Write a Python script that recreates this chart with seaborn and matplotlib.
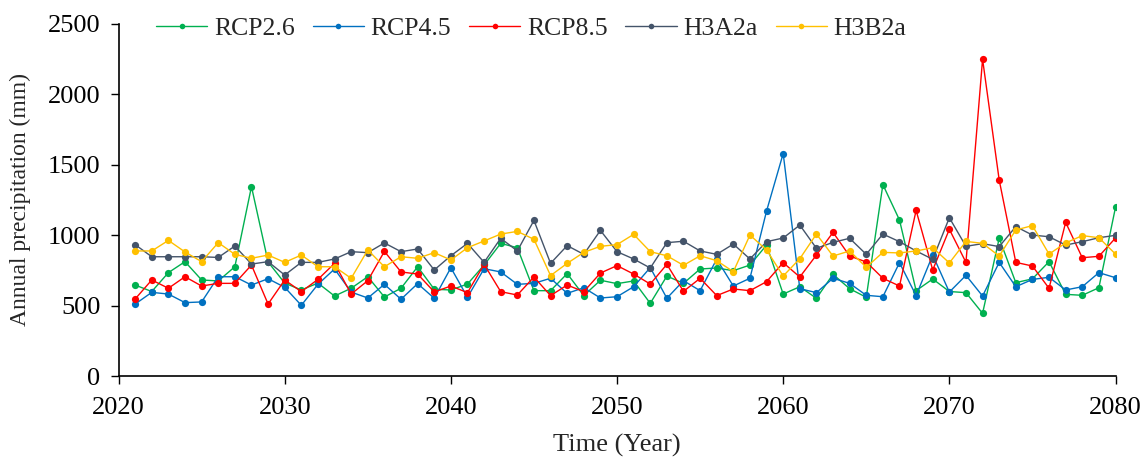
import pandas as pd
import matplotlib.pyplot as plt
import seaborn as sns

# Annual precipitation (mm), 2021-2080
years = list(range(2021, 2081))

rcp26 = [646, 600, 734, 812, 682, 675, 776, 1345, 810, 660,
         611, 660, 568, 623, 705, 561, 623, 776, 616, 611,
         653, 788, 942, 911, 606, 606, 727, 571, 680, 656,
         675, 516, 710, 658, 760, 767, 748, 788, 930, 582,
         634, 552, 722, 620, 559, 1359, 1108, 606, 689, 600,
         592, 445, 978, 663, 690, 812, 580, 573, 627, 1198]

rcp45 = [511, 594, 582, 521, 526, 705, 705, 646, 691, 630,
         502, 651, 760, 596, 554, 651, 545, 656, 552, 769,
         559, 762, 739, 651, 658, 694, 587, 627, 554, 563,
         634, 770, 552, 677, 606, 830, 639, 694, 1172, 1580,
         620, 592, 694, 658, 573, 563, 805, 571, 859, 596,
         715, 568, 807, 634, 686, 701, 611, 634, 734, 698]

rcp85 = [547, 682, 623, 705, 639, 658, 658, 788, 511, 682,
         599, 686, 800, 582, 677, 885, 739, 724, 597, 639,
         592, 793, 599, 575, 703, 571, 646, 599, 731, 784,
         724, 653, 793, 601, 694, 571, 618, 606, 670, 805,
         703, 859, 1020, 852, 810, 694, 639, 1176, 753, 1042,
         807, 2250, 1392, 807, 781, 623, 1091, 840, 850, 980]

h3a2a = [933, 847, 847, 847, 847, 842, 923, 795, 812, 717,
         807, 807, 831, 883, 876, 945, 883, 902, 753, 854,
         942, 807, 978, 888, 1105, 800, 926, 864, 1034, 883,
         831, 767, 947, 957, 888, 864, 937, 831, 954, 980,
         1072, 907, 949, 978, 864, 1008, 954, 888, 829, 1124,
         921, 940, 919, 1061, 1001, 989, 930, 954, 982, 999]

h3b2a = [888, 888, 963, 881, 812, 947, 864, 836, 859, 807,
         859, 776, 776, 694, 895, 776, 847, 836, 876, 824,
         911, 959, 1008, 1027, 971, 713, 800, 878, 921, 933,
         1006, 883, 854, 786, 854, 819, 741, 1001, 895, 710,
         833, 1008, 852, 888, 772, 878, 874, 888, 911, 803,
         956, 942, 852, 1037, 1068, 866, 945, 997, 982, 866]

scenarios = ['RCP2.6', 'RCP4.5', 'RCP8.5', 'H3A2a', 'H3B2a']
colors = ['#00B050', '#0070C0', '#FF0000', '#44546A', '#FFC000']

# Long-form table for seaborn
df = pd.concat([
    pd.DataFrame({'Year': years, 'Precipitation': vals, 'Scenario': name})
    for name, vals in zip(scenarios, [rcp26, rcp45, rcp85, h3a2a, h3b2a])
], ignore_index=True)

sns.set_style('ticks')
plt.rcParams['font.family'] = ['Liberation Serif', 'DejaVu Serif']

fig = plt.figure(figsize=(11.42, 4.63), dpi=100)
ax = fig.add_axes([0.1038, 0.1879, 0.8730, 0.7603])

sns.lineplot(data=df, x='Year', y='Precipitation', hue='Scenario',
             hue_order=scenarios, palette=colors, marker='o',
             markersize=5.2, markeredgewidth=0, linewidth=1.0, ax=ax)

ax.set_xlim(2020, 2080)
ax.set_ylim(0, 2500)
ax.set_xticks(range(2020, 2081, 10))
ax.set_yticks(range(0, 2501, 500))
ax.tick_params(axis='both', direction='out', length=6, width=1.0,
               labelsize=19, colors='black')
ax.tick_params(axis='x', pad=9)
ax.tick_params(axis='y', pad=7)
for side in ['left', 'bottom']:
    ax.spines[side].set_linewidth(1.2)
    ax.spines[side].set_color('black')
sns.despine(ax=ax)

ax.set_xlabel('Time (Year)', fontsize=19, labelpad=11)
ax.set_ylabel('Annual precipitation (mm)', fontsize=17, labelpad=12)

handles, labels = ax.get_legend_handles_labels()
for h in handles:
    h.set_markersize(4)
ax.legend(handles, labels, loc='center left', bbox_to_anchor=(0.0376, 0.986),
          ncol=5, frameon=False, fontsize=18.5, handlelength=2.0,
          handletextpad=0.25, columnspacing=0.7, borderpad=0, borderaxespad=0)

plt.savefig('out.png', dpi=100)
